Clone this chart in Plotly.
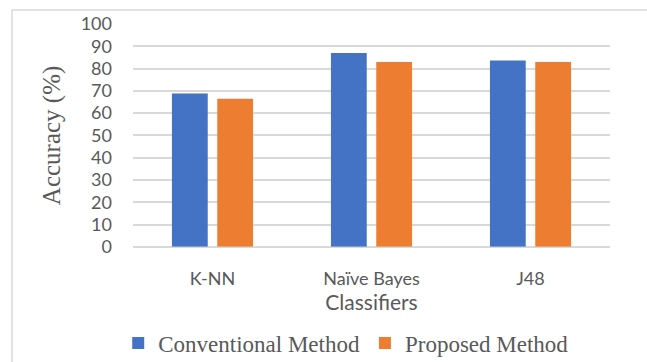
import plotly.graph_objects as go

# Classification accuracy per classifier (%)
classifiers = ["K-NN", "Naïve Bayes", "J48"]
conventional = [68.8, 87.0, 83.6]
proposed = [66.4, 83.0, 83.0]
y_ticks = [0, 10, 20, 30, 40, 50, 60, 70, 80, 90, 100]

BLUE = "#4472C4"
ORANGE = "#ED7D31"
GRID = "#D9D9D9"
TEXT = "#595959"
SERIF = "Liberation Serif"
SANS = "Lato"

fig = go.Figure()
fig.add_trace(go.Bar(name="Conventional Method", x=classifiers, y=conventional,
                     marker=dict(color=BLUE, line=dict(width=0))))
fig.add_trace(go.Bar(name="Proposed Method", x=classifiers, y=proposed,
                     marker=dict(color=ORANGE, line=dict(width=0))))

W, H = 647, 362
L, R, T, B = 133, 37, 24, 114
pw, ph = W - L - R, H - T - B

fig.update_layout(
    width=W, height=H,
    margin=dict(l=L, r=R, t=T, b=B),
    paper_bgcolor="white", plot_bgcolor="white",
    barmode="group", bargap=0.43, bargroupgap=0.21,
    showlegend=True,
    legend=dict(orientation="h", x=0.447, xanchor="center",
                yref="container", y=1 - 343 / H, yanchor="middle",
                font=dict(family=SERIF, size=23, color=TEXT),
                itemwidth=30, traceorder="normal"),
    xaxis=dict(
        showgrid=False, showline=False, ticks="",
        tickfont=dict(family=SANS, size=18, color=TEXT),
        ticklabelstandoff=19,
        title=dict(text="Classifiers", font=dict(family=SANS, size=21, color=TEXT), standoff=6),
    ),
    yaxis=dict(
        range=[0, 100], tickvals=y_ticks, showgrid=True, gridcolor=GRID, gridwidth=1.5,
        zeroline=True, zerolinecolor=GRID, zerolinewidth=1.5, showline=False, ticks="",
        tickfont=dict(family=SANS, size=18, color=TEXT),
        ticklabelstandoff=20,
        title=dict(text="Accuracy (%)", font=dict(family=SERIF, size=25, color=TEXT), standoff=12),
    ),
    shapes=[dict(
        type="rect", xref="paper", yref="paper", layer="below",
        x0=(12 - L) / pw, x1=(W + 20 - L) / pw,
        y0=-(H + 20 - (T + ph)) / ph, y1=1 + (T - 10) / ph,
        line=dict(color=GRID, width=1.5), fillcolor="rgba(0,0,0,0)",
    )],
)

fig.write_html("out.html")
